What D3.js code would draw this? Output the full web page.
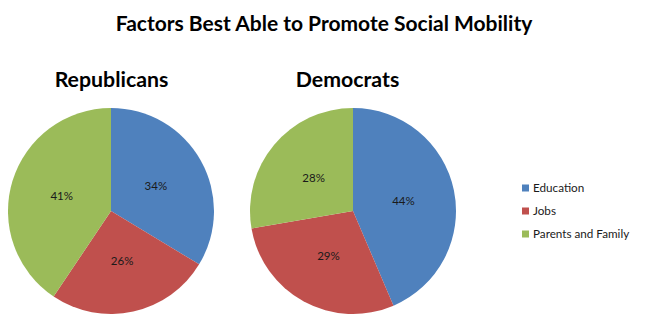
<!DOCTYPE html>
<html>
<head>
<meta charset="utf-8">
<script src="https://cdn.jsdelivr.net/npm/d3@7.9.0/dist/d3.min.js"></script>
<style>
  body { margin: 0; background: #fff; }
  svg { display: block; font-family: Lato, "Open Sans", sans-serif; }
</style>
</head>
<body>
<svg id="chart" width="650" height="327"></svg>
<script>
// chart data
const categories = ['Education', 'Jobs', 'Parents and Family'];
const groups = ['Republicans', 'Democrats'];
const republicanValues = [34, 26, 41];
const democratValues = [44, 29, 28];
const seriesValues = [republicanValues, democratValues];
const colorList = ['#4F81BD', '#C0504D', '#9BBB59'];

const svg = d3.select('#chart');

// title
svg.append('text')
    .attr('x', 324)
    .attr('y', 31)
    .attr('text-anchor', 'middle')
    .attr('font-size', 21)
    .attr('font-weight', 'bold')
    .text('Factors Best Able to Promote Social Mobility');

let colors = d3.scaleOrdinal().domain(categories).range(colorList);
let radius = 103;
let arcGenerator = d3.arc().innerRadius(0).outerRadius(radius);
let sliceGenerator = d3.pie().sort(null).value((d) => d.value);

// pie centres, and the sub-title centres (slightly left of the Democrats pie)
let centerX = d3.scalePoint().domain(groups).range([111, 353]);
let titleX = d3.scalePoint().domain(groups).range([111.5, 347.5]);
const centerY = 211;

groups.forEach((group, gi) => {
    let data = categories.map((c, i) => ({ label: c, value: seriesValues[gi][i] }));
    let arcData = sliceGenerator(data);
    let g = svg.append('g')
        .attr('transform', `translate(${centerX(group)},${centerY})`);

    g.selectAll('path')
        .data(arcData)
        .join('path')
        .attr('d', arcGenerator)
        .attr('fill', (d) => colors(d.data.label));

    g.selectAll('text.pct')
        .data(arcData)
        .join('text')
        .attr('class', 'pct')
        .attr('transform', (d) => `translate(${arcGenerator.centroid(d)})`)
        .attr('text-anchor', 'middle')
        .attr('dy', '0.35em')
        .attr('font-size', 11.5)
        .attr('fill', '#1a1a1a')
        .text((d) => `${d.data.value}%`);

    svg.append('text')
        .attr('x', titleX(group))
        .attr('y', 87)
        .attr('text-anchor', 'middle')
        .attr('font-size', 21.3)
        .attr('font-weight', 'bold')
        .text(group);
});

// legend
let legend = svg.append('g').attr('transform', 'translate(522,188)');
categories.forEach((c, i) => {
    let row = legend.append('g').attr('transform', `translate(0,${i * 23})`);
    row.append('rect')
        .attr('x', 0)
        .attr('y', -3.5)
        .attr('width', 7)
        .attr('height', 7)
        .attr('fill', colors(c));
    row.append('text')
        .attr('x', 11)
        .attr('dy', '0.35em')
        .attr('font-size', 11.7)
        .attr('fill', '#1a1a1a')
        .text(c);
});
</script>
</body>
</html>
